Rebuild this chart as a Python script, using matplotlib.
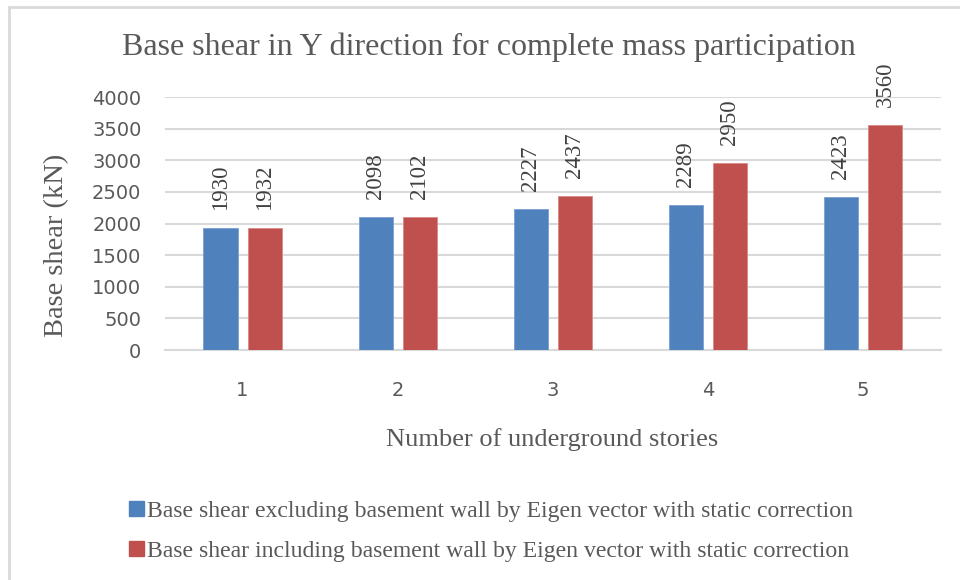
import matplotlib
matplotlib.use("Agg")
import matplotlib.pyplot as plt
from matplotlib.patches import Rectangle, Patch
from matplotlib.font_manager import FontProperties
import numpy as np

categories = ["1", "2", "3", "4", "5"]
excluding = [1930, 2098, 2227, 2289, 2423]
including = [1932, 2102, 2437, 2950, 3560]
series_names = [
    "Base shear excluding basement wall by Eigen vector with static correction",
    "Base shear including basement wall by Eigen vector with static correction",
]
title = "Base shear in Y direction for complete mass participation"
xlabel = "Number of underground stories"
ylabel = "Base shear (kN)"
yticks = [0, 500, 1000, 1500, 2000, 2500, 3000, 3500, 4000]

blue = "#4F81BD"
red = "#C0504D"
serif = ["Liberation Serif", "DejaVu Serif"]

fig = plt.figure(figsize=(9.6, 5.8), dpi=100)
fig.patches.append(Rectangle((8.5/960, -0.05), 1.2, (580-7)/580 + 0.05,
                             transform=fig.transFigure, fill=False,
                             edgecolor="#d9d9d9", linewidth=2.0))

ax = fig.add_axes([165/960, 230/580, 775.5/960, 253/580])
x = np.arange(len(categories))
w = 0.22
off = 0.142
b1 = ax.bar(x - off, excluding, w, color=blue, edgecolor="#7a9fd0", linewidth=0.6, zorder=3)
b2 = ax.bar(x + off, including, w, color=red, edgecolor="#d88a88", linewidth=0.6, zorder=3)

label_fp = FontProperties(family="Liberation Serif", size=16.5)
for bars, vals in ((b1, excluding), (b2, including)):
    for r, v in zip(bars, vals):
        ax.annotate(str(v), (r.get_x() + r.get_width()/2, v), xytext=(0, 13),
                    textcoords="offset points", rotation=90, ha="center", va="bottom",
                    fontproperties=label_fp, color="#404040", annotation_clip=False)

ax.set_xlim(-0.5, len(categories) - 0.5)
ax.set_ylim(0, 4000)
ax.set_yticks(yticks)
ax.set_yticklabels([str(t) for t in yticks])
ax.set_xticks(x)
ax.set_xticklabels(categories)
ax.tick_params(length=0, labelsize=14, labelcolor="#595959")
ax.tick_params(axis="x", pad=22)
ax.tick_params(axis="y", pad=17)
for lab in ax.get_xticklabels() + ax.get_yticklabels():
    lab.set_family("DejaVu Sans")
ax.grid(axis="y", color="#d9d9d9", linewidth=1.5, zorder=0)
for s in ("top", "right", "left"):
    ax.spines[s].set_visible(False)
ax.spines["bottom"].set_color("#d9d9d9")
ax.spines["bottom"].set_linewidth(1.5)

fig.text(489/960, 1 - 47/580, title, ha="center", va="center",
         fontsize=23, family=serif, color="#595959")
fig.text(57/960, 1 - 245/580, ylabel, ha="center", va="center", rotation=90,
         fontsize=20.5, family=serif, color="#595959")
fig.text(552/960, 1 - 440/580, xlabel, ha="center", va="center",
         fontsize=19, family=serif, color="#595959")

handles = [Patch(color=blue), Patch(color=red)]
fig.legend(handles, series_names, loc="center left",
           bbox_to_anchor=(108/960, 1 - 531/580), frameon=False,
           prop={"family": serif, "size": 17.1}, labelcolor="#595959",
           handlelength=0.6, handleheight=0.6, handletextpad=0.15, labelspacing=0.8)

fig.savefig("out.png", dpi=100)
